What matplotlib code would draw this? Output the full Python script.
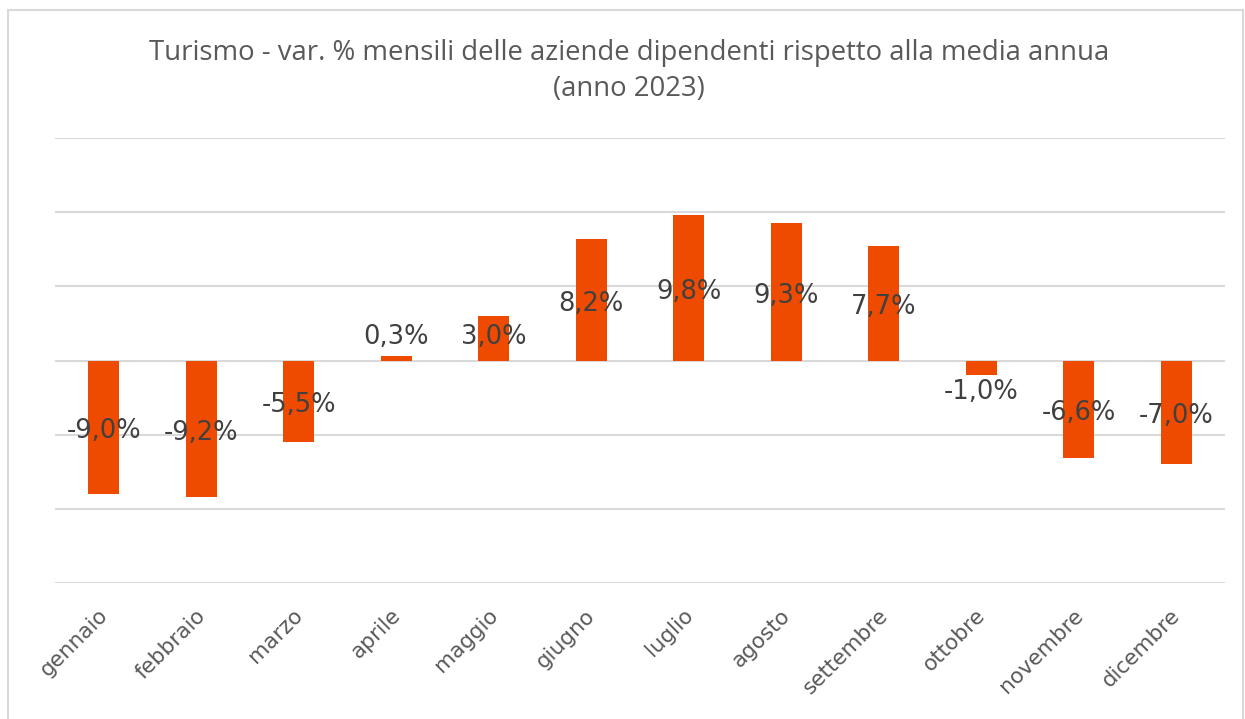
import matplotlib.pyplot as plt
from matplotlib.patches import Rectangle
from matplotlib.transforms import ScaledTranslation
import numpy as np

# dati: variazione % mensile rispetto alla media annua (2023)
mesi = ["gennaio", "febbraio", "marzo", "aprile", "maggio", "giugno",
        "luglio", "agosto", "settembre", "ottobre", "novembre", "dicembre"]
variazioni = [-9.0, -9.2, -5.5, 0.3, 3.0, 8.2, 9.8, 9.3, 7.7, -1.0, -6.6, -7.0]

arancio = "#EE4A00"
grigio_testo = "#404040"

fig = plt.figure(figsize=(12.45, 7.19), dpi=100)
ax = fig.add_axes([55 / 1245, 1 - 583 / 719, 1170 / 1245, 445 / 719])

x = np.arange(len(mesi))
ax.bar(x, variazioni, width=0.32, color=arancio, zorder=3)

ax.set_xlim(-0.5, len(mesi) - 0.5)
ax.set_ylim(-15, 15)
ax.set_yticks(np.arange(-15, 16, 5))
ax.yaxis.grid(True, color="#D9D9D9", linewidth=1.5, zorder=0)
ax.tick_params(axis="y", left=False, labelleft=False)
ax.tick_params(axis="x", length=0, pad=16)
for s in ax.spines.values():
    s.set_visible(False)

ax.set_xticks(x)
ax.set_xticklabels(mesi, rotation=45, ha="right", va="top", rotation_mode="anchor",
                   fontsize=15.5, color="#595959", family="DejaVu Sans")
sposta = ScaledTranslation(-6 / 100, 0, fig.dpi_scale_trans)
for lab in ax.get_xticklabels():
    lab.set_transform(lab.get_transform() + sposta)

# etichette dei valori, al centro della barra (spostate fuori se la barra e' corta)
giu = ScaledTranslation(0, -4 / 100, fig.dpi_scale_trans)
for xi, v in zip(x, variazioni):
    ypos = np.sign(v) * max(abs(v) / 2, 1.85)
    testo = f"{v:.1f}%".replace(".", ",")
    ax.text(xi, ypos, testo, ha="center", va="center", fontsize=18.5,
            color=grigio_testo, family="DejaVu Sans", zorder=4,
            transform=ax.transData + giu)

fig.text(0.505, 1 - 53 / 719, "Turismo - var. % mensili delle aziende dipendenti rispetto alla media annua",
         ha="center", va="center", fontsize=19.8, color="#595959", family="Open Sans")
fig.text(0.505, 1 - 89 / 719, "(anno 2023)",
         ha="center", va="center", fontsize=19.8, color="#595959", family="Open Sans")

# cornice del grafico
fig.patches.append(Rectangle((8 / 1245, -0.01), 1235 / 1245, 1 - 10 / 719 + 0.01,
                             transform=fig.transFigure, fill=False,
                             edgecolor="#D9D9D9", linewidth=1.5))

fig.savefig("out.png", dpi=100)
